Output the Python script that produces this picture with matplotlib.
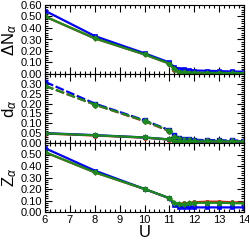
import matplotlib
matplotlib.use('Agg')
import matplotlib.pyplot as plt
from matplotlib.ticker import MultipleLocator, FormatStrFormatter

plt.rcParams['font.family'] = ['Liberation Sans', 'DejaVu Sans']
plt.rcParams['mathtext.fontset'] = 'custom'
plt.rcParams['mathtext.rm'] = 'Liberation Sans'
plt.rcParams['mathtext.it'] = 'Liberation Sans:italic'

U = [6, 8, 10, 11, 11.2, 11.4, 11.6, 11.8, 12, 12.5, 13, 13.5, 14]

# orbital polarization
dn_blue = [0.55, 0.33, 0.18, 0.10, 0.06, 0.045, 0.04, 0.035, 0.03, 0.028, 0.025, 0.022, 0.02]
dn_red = [0.50, 0.31, 0.17, 0.09, 0.035, 0.015, 0.012, 0.01, 0.008, 0.008, 0.007, 0.007, 0.006]
dn_green = [0.50, 0.31, 0.17, 0.09, 0.04, 0.02, 0.016, 0.013, 0.012, 0.011, 0.01, 0.009, 0.009]

# double occupancy (dashed: upper group, solid: lower group)
d_up_blue = [0.31, 0.20, 0.115, 0.065, 0.04, 0.025, 0.02, 0.018, 0.016, 0.015, 0.014, 0.013, 0.012]
d_up_red = [0.29, 0.195, 0.11, 0.06, 0.03, 0.018, 0.014, 0.012, 0.011, 0.01, 0.01, 0.009, 0.009]
d_up_green = [0.29, 0.195, 0.112, 0.062, 0.032, 0.02, 0.016, 0.014, 0.012, 0.011, 0.011, 0.01, 0.01]
d_lo_blue = [0.05, 0.04, 0.028, 0.018, 0.012, 0.01, 0.009, 0.009, 0.008, 0.008, 0.008, 0.008, 0.008]
d_lo_red = [0.048, 0.038, 0.027, 0.017, 0.01, 0.008, 0.007, 0.007, 0.007, 0.007, 0.007, 0.007, 0.007]
d_lo_green = [0.049, 0.039, 0.028, 0.018, 0.011, 0.009, 0.008, 0.008, 0.008, 0.008, 0.008, 0.008, 0.008]

# quasiparticle weight
z_blue = [0.555, 0.36, 0.20, 0.12, 0.06, 0.04, 0.04, 0.04, 0.04, 0.04, 0.04, 0.04, 0.04]
z_red = [0.52, 0.345, 0.20, 0.12, 0.08, 0.07, 0.075, 0.08, 0.085, 0.09, 0.09, 0.085, 0.08]
z_green = [0.52, 0.345, 0.20, 0.12, 0.08, 0.07, 0.07, 0.075, 0.08, 0.08, 0.08, 0.078, 0.075]

BLUE = '#0000ff'
RED = '#e02010'
GREEN = '#1c8a1c'

W, H = 249, 243
fig = plt.figure(figsize=(W / 100, H / 100), dpi=100)
left, right = 45 / W, 244 / W
ph = 69 / H
bottoms = [(H - 5 - 69) / H, (H - 5 - 138) / H, (H - 5 - 207) / H]
axes = [fig.add_axes([left, b, right - left, ph]) for b in bottoms]


def draw(ax, y, color, marker, ls='-'):
    ax.plot(U, y, ls, color=color, lw=1.6, marker=marker, ms=3, mew=0.5,
            mec=color, mfc=color)


ax = axes[0]
draw(ax, dn_red, RED, 'o')
draw(ax, dn_blue, BLUE, 's')
draw(ax, dn_green, GREEN, 'D')
ax.set_ylim(0, 0.6)
ax.yaxis.set_major_locator(MultipleLocator(0.1))
ax.yaxis.set_minor_locator(MultipleLocator(0.02))
ax.set_ylabel(r'$\Delta$N$_\alpha$', fontsize=12, labelpad=1)

ax = axes[1]
dash = (0, (4, 1.2))
for y, c, m in [(d_up_red, RED, 'o'), (d_up_blue, BLUE, 's'), (d_up_green, GREEN, 'D')]:
    ax.plot(U, y, color=c, lw=1.6, ls=dash, marker=m, ms=3, mec=c, mfc=c)
for y, c, m in [(d_lo_red, RED, 'o'), (d_lo_blue, BLUE, 's'), (d_lo_green, GREEN, 'D')]:
    draw(ax, y, c, m)
ax.set_ylim(0, 0.35)
ax.set_yticks([0, 0.05, 0.10, 0.15, 0.20, 0.25, 0.30])
ax.yaxis.set_minor_locator(MultipleLocator(0.01))
ax.set_ylabel(r'd$_\alpha$', fontsize=12, labelpad=1)

ax = axes[2]
draw(ax, z_red, RED, 'o')
draw(ax, z_blue, BLUE, 's')
draw(ax, z_green, GREEN, 'D')
ax.set_ylim(0, 0.6)
ax.set_yticks([0, 0.1, 0.2, 0.3, 0.4, 0.5])
ax.yaxis.set_minor_locator(MultipleLocator(0.02))
ax.set_ylabel(r'Z$_\alpha$', fontsize=12, labelpad=1)
ax.set_xlabel('U', fontsize=12, labelpad=0)

for i, ax in enumerate(axes):
    ax.set_xlim(6, 14)
    ax.xaxis.set_major_locator(MultipleLocator(1))
    ax.xaxis.set_minor_locator(MultipleLocator(0.2))
    ax.yaxis.set_major_formatter(FormatStrFormatter('%.2f'))
    ax.tick_params(which='both', direction='in', top=True, right=True,
                   labelsize=8, pad=2, width=0.8)
    ax.tick_params(which='major', length=5)
    ax.tick_params(which='minor', length=2.5)
    for s in ax.spines.values():
        s.set_linewidth(0.8)
    if i < 2:
        ax.tick_params(labelbottom=False)

fig.savefig('out.png', dpi=100)
